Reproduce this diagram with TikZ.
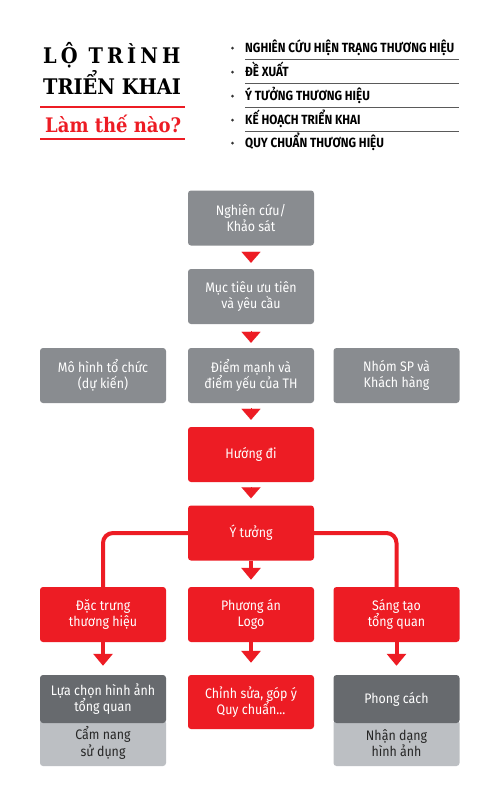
\documentclass[tikz,border=0pt]{standalone}
\usepackage{fontspec}
\usetikzlibrary{arrows.meta}
\setmainfont{DejaVu Serif Condensed}
\newfontfamily\boxfont[FakeStretch=0.9]{Fira Sans}
\newfontfamily\listfont[FakeStretch=0.88]{Fira Sans}
\definecolor{boxgray}{RGB}{137,140,144}
\definecolor{boxred}{RGB}{237,28,36}
\definecolor{boxdark}{RGB}{103,106,110}
\definecolor{boxlight}{RGB}{188,191,195}
\definecolor{rulegray}{RGB}{90,90,90}

\tikzset{
  box/.style={rounded corners=3pt, minimum width=126pt, minimum height=55pt,
    inner sep=0pt, align=center, text=white, font=\boxfont\fontsize{13.8}{16.5}\selectfont},
  graybox/.style={box, fill=boxgray},
  redbox/.style={box, fill=boxred},
  darkbox/.style={box, fill=boxdark, minimum height=48pt},
  lightbox/.style={box, fill=boxlight, minimum height=46pt, text=black!85},
  tip/.style={boxred, line width=0.1pt, -{Triangle[width=19pt,length=11pt]}},
  stem/.style={boxred, line width=4pt, -{Triangle[width=19pt,length=12pt]}},
  branch/.style={boxred, line width=4pt, rounded corners=10pt},
  item/.style={anchor=base west, inner sep=0pt, font=\listfont\bfseries\fontsize{13.3}{15}\selectfont},
  title/.style={anchor=base west, inner sep=0pt, font=\bfseries\fontsize{21.5}{24}\selectfont},
}

\begin{document}
\begin{tikzpicture}[x=1pt,y=-1pt]
\useasboundingbox[fill=white] (0,0) rectangle (500,807);

% title
\node[title, font=\bfseries\fontsize{21.5}{24}\selectfont\addfontfeature{LetterSpace=19}] (t1) at (43,63) {LỘ TRÌNH};
\node[title] (t2) at (43,94) {TRIỂN KHAI};
\draw[boxred, line width=2pt] (40,107) -- (185,107);
\node[title, text=boxred, font=\bfseries\fontsize{20}{24}\selectfont] (t3) at (45,132) {Làm thế nào?};
\draw[boxred, line width=2pt] (40,139) -- (185,139);

% list
\foreach \y/\txt in {52/NGHIÊN CỨU HIỆN TRẠNG THƯƠNG HIỆU, 76/ĐỀ XUẤT, 100/Ý TƯỞNG THƯƠNG HIỆU, 124/KẾ HOẠCH TRIỂN KHAI, 147/QUY CHUẨN THƯƠNG HIỆU}
  \node[item] at (245,\y) {\txt};
\foreach \y in {48,72,96,120,143}
  \fill[black!80] (232.5,\y) circle (1.5pt);
\foreach \y in {59,83,107,131}
  \draw[rulegray, line width=0.8pt] (245,\y) -- (459,\y);

% flow
\node[graybox] (nc) at (251,218) {Nghiên cứu/\\Khảo sát};
\node[graybox] (mt) at (251,296.5) {Mục tiêu ưu tiên\\và yêu cầu};
\node[graybox] (mh) at (103,375.5) {Mô hình tổ chức\\(dự kiến)};
\node[graybox] (dm) at (251,375.5) {Điểm mạnh và\\điểm yếu của TH};
\node[graybox] (ns) at (396.5,375.5) {Nhóm SP và\\Khách hàng};
\node[redbox] (hd) at (251,454.5) {Hướng đi};
\node[redbox] (yt) at (251,533) {Ý tưởng};
\node[redbox] (dt) at (103,614.5) {Đặc trưng\\thương hiệu};
\node[redbox] (pa) at (251,614.5) {Phương án\\Logo};
\node[redbox] (st) at (396.5,614.5) {Sáng tạo\\tổng quan};
\node[lightbox] (cn) at (103,743) {Cẩm nang\\sử dụng};
\node[darkbox] (lc) at (103,699) {Lựa chọn hình ảnh\\tổng quan};
\node[redbox, minimum height=54pt] (cs) at (251,702) {Chỉnh sửa, góp ý\\Quy chuẩn...};
\node[lightbox] (nd) at (396.5,743) {Nhận dạng\\hình ảnh};
\node[darkbox] (pc) at (396.5,699) {Phong cách};

\draw[tip, shorten <=7pt, shorten >=6pt] (nc) -- (mt);
\draw[tip, shorten <=7pt, shorten >=5pt] (mt) -- (dm);
\draw[tip, shorten <=5pt, shorten >=7pt] (dm) -- (hd);
\draw[tip, shorten <=6pt, shorten >=7pt] (hd) -- (yt);
\draw[stem, shorten >=7pt] (yt) -- (pa);
\draw[branch] (yt.west) -| (dt.north);
\draw[branch] (yt.east) -| (st.north);
\draw[stem, shorten >=9pt] (dt) -- (lc);
\draw[stem, shorten >=12pt] (pa) -- (cs);
\draw[stem, shorten >=9pt] (st) -- (pc);
\end{tikzpicture}
\end{document}
